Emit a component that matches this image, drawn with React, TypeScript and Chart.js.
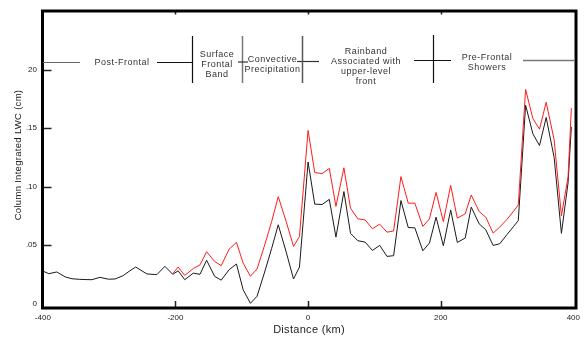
import { useEffect, useRef } from "react";
import { Chart, registerables } from "chart.js";

Chart.register(...registerables);

const distanceKm = [
  -399, -391, -379, -366, -356, -345, -335, -326, -314, -301, -291, -279, -270, -260, -243, -228, -216,
  -204, -196, -186, -173, -163, -153, -141, -131, -119, -108, -98, -87, -77, -66, -55, -45, -33, -22, -13,
  0, 10, 21, 32, 42, 54, 64, 75, 86, 97,
  108, 119, 129, 140, 151, 161, 173, 183, 193,
  204, 215, 225, 237, 246, 258, 268, 279, 289,
  300, 310, 317, 328, 339, 349, 359, 371, 382, 392, 397,
];

const lwcLower = [
  2.75, 2.55, 2.7, 2.27, 2.12, 2.07, 2.05, 2.04, 2.24, 2.08, 2.1, 2.38, 2.75, 3.12, 2.53, 2.47, 3.18,
  2.5, 2.8, 2.04, 2.6, 2.5, 3.7, 2.33, 2.0, 2.9, 3.38, 1.19, 0.02, 0.62, 2.6, 4.7, 6.73, 4.4, 2.1, 3.12,
  12.1, 8.5, 8.46, 8.9, 5.68, 9.57, 6.0, 5.37, 5.25, 4.54,
  4.97, 4.03, 4.09, 8.8, 6.5, 6.47, 4.51, 5.17, 7.38,
  4.94, 8.0, 5.22, 5.6, 8.24, 6.81, 6.3, 4.97, 5.11,
  5.9, 6.6, 7.1, 16.95, 14.5, 13.5, 15.9, 12.5, 6.0, 10.3, 15.1,
];

const lwcUpper = [
  null, null, null, null, null, null, null, null, null, null, null, null, null, null, null, null, null,
  2.55, 3.12, 2.4, 3.0, 3.3, 4.43, 3.6, 3.24, 4.66, 5.22, 3.47, 2.33, 2.95, 4.9, 7.0, 9.14, 7.0, 4.88, 5.73,
  14.8, 11.2, 11.1, 11.55, 8.3, 11.6, 8.15, 7.24, 7.15, 6.39,
  6.79, 6.1, 6.2, 10.85, 8.58, 8.58, 6.59, 7.24, 9.5,
  7.0, 10.1, 7.3, 7.67, 9.28, 7.86, 7.38, 6.02, 6.53,
  7.2, 7.9, 8.43, 18.3, 15.8, 14.9, 17.2, 14.0, 7.5, 10.8, 16.7,
];

const xTickValues = [-400, -200, 0, 200, 400];
const xTickLabels = ["-400", "-200", "0", "200", "400"];
const yTickValues = [0, 5, 10, 15, 20];
const yTickLabels = ["0", ".05", ".10", ".15", "20"];

const xTitle = "Distance (km)";
const yTitle = "Column Integrated LWC (cm)";

const FONT = "'Liberation Sans', Arial, sans-serif";

const annotationPlugin = {
  id: "annotations",
  afterDraw(chart: any) {
    const ctx = chart.ctx as CanvasRenderingContext2D;
    const { left, right, top, bottom } = chart.chartArea;
    const xs = chart.scales.x;
    const ys = chart.scales.y;
    ctx.save();

    // inward tick marks
    ctx.strokeStyle = "#222";
    ctx.lineWidth = 1.5;
    ctx.beginPath();
    for (const v of yTickValues) {
      if (v === 0) continue;
      const y = Math.round(ys.getPixelForValue(v)) + 0.5;
      ctx.moveTo(left, y);
      ctx.lineTo(left + 9, y);
    }
    for (const v of xTickValues) {
      if (v === -400 || v === 400) continue;
      const x = Math.round(xs.getPixelForValue(v)) + 0.5;
      ctx.moveTo(x, bottom);
      ctx.lineTo(x, bottom - 7);
      ctx.moveTo(x, top);
      ctx.lineTo(x, top + 3.5);
    }
    ctx.stroke();

    // frame
    ctx.strokeStyle = "#000";
    ctx.lineWidth = 3;
    ctx.strokeRect(left, top, right - left, bottom - top);

    // axis titles
    ctx.fillStyle = "#222";
    (ctx as any).letterSpacing = "0.3px";
    ctx.textAlign = "center";
    ctx.textBaseline = "middle";
    ctx.font = `11px ${FONT}`;
    ctx.fillText(xTitle, 309, 329.5);
    ctx.save();
    ctx.translate(18.5, 155);
    ctx.rotate(-Math.PI / 2);
    ctx.font = `9.5px ${FONT}`;
    ctx.fillText(yTitle, 0, 0);
    ctx.restore();

    // region separators
    const seg = (x1: number, y1: number, x2: number, y2: number, color: string, w = 1.2) => {
      ctx.strokeStyle = color;
      ctx.lineWidth = w;
      ctx.beginPath();
      ctx.moveTo(x1, y1);
      ctx.lineTo(x2, y2);
      ctx.stroke();
    };
    seg(43, 62.5, 80, 62.5, "#666");
    seg(157, 62.5, 193, 62.5, "#111");
    seg(192.5, 36, 192.5, 83, "#111");
    seg(242.5, 36, 242.5, 83, "#777", 1.5);
    seg(238, 62, 248, 62, "#333");
    seg(297, 61.5, 319, 61.5, "#333");
    seg(302.5, 36, 302.5, 83, "#555", 1.5);
    seg(414, 60.5, 451, 60.5, "#111");
    seg(433.5, 35, 433.5, 83, "#111");
    seg(523, 60.5, 575, 60.5, "#777", 1.5);

    // region labels
    ctx.fillStyle = "#333";
    ctx.font = `9px ${FONT}`;
    (ctx as any).letterSpacing = "0.5px";
    const label = (lines: string[], cx: number, cy: number, lh = 10) => {
      lines.forEach((t, i) => ctx.fillText(t, cx, cy + (i - (lines.length - 1) / 2) * lh));
    };
    label(["Post-Frontal"], 122, 63);
    label(["Surface", "Frontal", "Band"], 217, 64.5);
    label(["Convective", "Precipitation"], 272.5, 65);
    label(["Rainband", "Associated with", "upper-level", "front"], 366, 67);
    label(["Pre-Frontal", "Showers"], 487, 63);

    ctx.restore();
  },
};

export default function App() {
  const canvasRef = useRef<HTMLCanvasElement | null>(null);

  useEffect(() => {
    const canvas = canvasRef.current;
    if (!canvas) return;
    const lowerPts = distanceKm.map((x, i) => ({ x, y: lwcLower[i] }));
    const upperPts = distanceKm
      .map((x, i) => ({ x, y: lwcUpper[i] }))
      .filter((p) => p.y !== null);

    const chart = new Chart(canvas, {
      type: "line",
      data: {
        datasets: [
          {
            data: upperPts as any,
            borderColor: "#ff1a1a",
            borderWidth: 1,
            pointRadius: 0,
            tension: 0,
          },
          {
            data: lowerPts as any,
            borderColor: "#1a1a1a",
            borderWidth: 1,
            pointRadius: 0,
            tension: 0,
          },
        ],
      },
      options: {
        animation: false,
        responsive: false,
        devicePixelRatio: 1,
        layout: { padding: { top: 11, right: 10, left: 0, bottom: 0 } },
        plugins: { legend: { display: false }, tooltip: { enabled: false } },
        scales: {
          x: {
            type: "linear",
            min: -400.5,
            max: 404,
            grid: { display: false, drawTicks: false },
            border: { display: false },
            afterFit: (s: any) => {
              s.height = 29;
            },
            afterBuildTicks: (s: any) => {
              s.ticks = xTickValues.map((v) => ({ value: v }));
            },
            ticks: {
              autoSkip: false,
              maxRotation: 0,
              padding: 5,
              color: "#222",
              font: { family: FONT, size: 8 },
              callback: (v: any) => xTickLabels[xTickValues.indexOf(Number(v))] ?? "",
            },
          },
          y: {
            type: "linear",
            min: -0.38,
            max: 25,
            grid: { display: false, drawTicks: false },
            border: { display: false },
            afterFit: (s: any) => {
              s.width = 42.5;
            },
            afterBuildTicks: (s: any) => {
              s.ticks = yTickValues.map((v) => ({ value: v }));
            },
            ticks: {
              autoSkip: false,
              padding: 5.5,
              color: "#222",
              font: { family: FONT, size: 8 },
              callback: (v: any) => yTickLabels[yTickValues.indexOf(Number(v))] ?? "",
            },
          },
        },
      },
      plugins: [annotationPlugin],
    });
    return () => chart.destroy();
  }, []);

  return (
    <div style={{ position: "absolute", left: 0, top: 0, width: 586, height: 337, background: "#fff" }}>
      <canvas ref={canvasRef} width={586} height={337} style={{ display: "block" }} />
    </div>
  );
}
